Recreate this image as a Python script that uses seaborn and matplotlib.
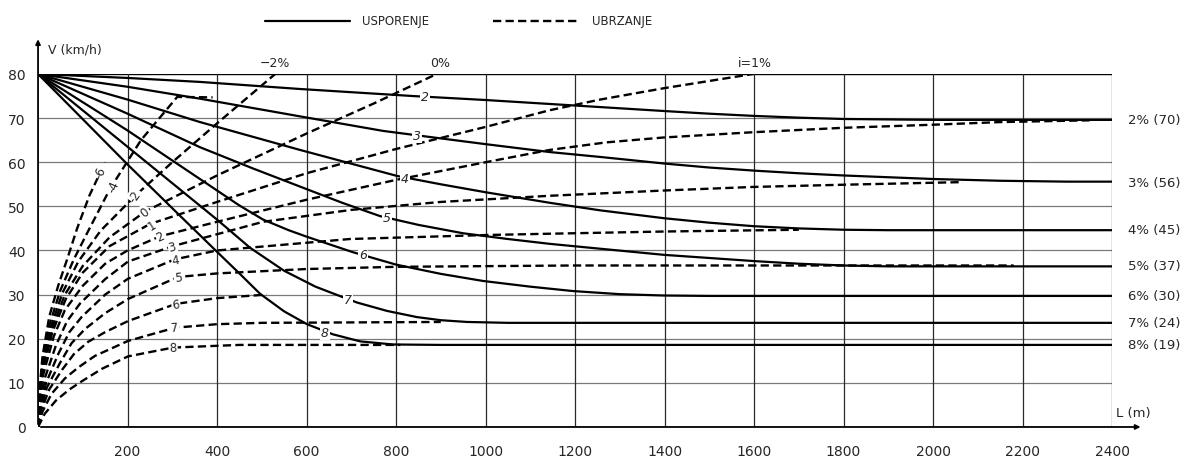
import matplotlib
matplotlib.use('Agg')
import matplotlib.pyplot as plt
import seaborn as sns
import pandas as pd

sns.set_style('white')
plt.rcParams['font.family'] = ['DejaVu Sans']

# --- deceleration curves (USPORENJE), grade % -> (L m, V km/h) ---
dec2 = [(0, 80), (200, 79.1), (362, 78.2), (585, 76.6), (838, 75.0), (1000, 74.1), (1144, 73.2),
        (1256, 72.5), (1400, 71.6), (1500, 71.0), (1600, 70.5), (1700, 70.1), (1800, 69.8),
        (1900, 69.7), (2000, 69.6), (2400, 69.6)]
dec3 = [(0, 80), (200, 77.1), (362, 74.4), (585, 70.4), (771, 67.1), (900, 65.4), (1000, 64.1),
        (1144, 62.3), (1256, 61.2), (1400, 59.7), (1500, 58.8), (1600, 58.1), (1700, 57.5),
        (1800, 57.0), (1900, 56.6), (2000, 56.2), (2150, 55.8), (2300, 55.6), (2400, 55.6)]
dec4 = [(0, 80), (200, 74.2), (362, 69.1), (585, 62.8), (802, 56.9), (900, 55.0), (1000, 53.2),
        (1144, 50.8), (1256, 49.1), (1400, 47.3), (1500, 46.3), (1600, 45.5), (1700, 45.0),
        (1800, 44.7), (1900, 44.6), (2400, 44.6)]
dec5 = [(0, 80), (200, 71.0), (362, 63.4), (480, 58.6), (585, 54.5), (680, 50.8), (764, 47.8),
        (850, 45.8), (950, 43.9), (1050, 42.6), (1144, 41.5), (1256, 40.4), (1400, 39.0),
        (1500, 38.3), (1600, 37.6), (1700, 37.0), (1800, 36.6), (1900, 36.4), (2400, 36.4)]
dec6 = [(0, 80), (200, 67.2), (350, 57.0), (450, 50.2), (503, 47.0), (560, 44.6), (601, 43.1),
        (704, 39.6), (800, 36.8), (900, 34.7), (994, 33.1), (1100, 31.8), (1196, 30.8),
        (1300, 30.1), (1397, 29.8), (1500, 29.7), (2400, 29.7)]
dec7 = [(0, 80), (200, 63.5), (400, 47.0), (474, 40.6), (550, 35.4), (620, 31.8), (679, 29.5),
        (713, 28.2), (780, 26.3), (847, 24.9), (900, 24.2), (959, 23.8), (1050, 23.6), (2400, 23.6)]
dec8 = [(0, 80), (200, 59.5), (324, 47.2), (400, 39.7), (450, 34.8), (496, 30.2), (550, 26.2),
        (601, 23.3), (659, 21.0), (720, 19.4), (793, 18.7), (900, 18.6), (2400, 18.6)]

# --- acceleration curves (UBRZANJE) ---
acc_m6 = [(0, 0), (3, 8), (10, 16), (25, 25), (45, 32), (65, 38), (87, 44.9), (115, 52.5), (150, 60)]
acc_m4 = [(0, 0), (3, 7), (10, 14.5), (25, 23), (50, 31), (80, 38), (110, 44), (161, 54),
          (230, 65), (311, 74.8), (390, 74.7)]
acc_m2 = [(0, 0), (3, 6.5), (10, 14), (28, 22.5), (55, 30.5), (90, 37.5), (140, 44.5),
          (217, 52.4), (300, 60), (400, 68.8), (530, 80)]
acc_0 = [(0, 0), (3, 6), (10, 13.5), (30, 22), (60, 30), (100, 36.5), (160, 43), (239, 48.8),
         (400, 57), (600, 66.5), (750, 73.3), (891, 80)]
acc_1 = [(0, 0), (3, 5.5), (11, 13), (32, 21.5), (62, 29), (100, 35), (160, 41), (250, 46),
         (400, 51), (600, 57.5), (800, 63), (1000, 68), (1144, 71.8), (1256, 74.2), (1400, 76.8), (1598, 80)]
acc_2 = [(0, 0), (3, 5), (12, 12), (35, 20.5), (60, 26.5), (100, 32), (150, 37), (200, 40),
         (272, 43.2), (400, 46.5), (600, 51.5), (800, 56), (1000, 60), (1144, 62.8), (1270, 64.5),
         (1397, 65.6), (1598, 66.8), (1799, 67.8), (2000, 68.5), (2150, 69.1), (2350, 69.5)]
acc_3 = [(0, 0), (4, 4.5), (15, 11), (40, 18.5), (65, 24), (94, 28), (150, 33.5), (201, 37.5),
         (302, 41), (503, 46.5), (700, 49.2), (900, 51), (1144, 52.4), (1401, 53.6), (1598, 54.4),
         (1799, 54.9), (2067, 55.5)]
acc_4 = [(0, 0), (5, 4.5), (18, 10), (45, 16.5), (70, 21.5), (98, 25), (150, 30), (201, 33.6),
         (306, 38), (400, 40), (697, 42.6), (1000, 43.5), (1144, 43.8), (1401, 44.3), (1700, 44.7)]
acc_5 = [(0, 0), (6, 4), (20, 9), (49, 14.5), (75, 19), (105, 22.2), (150, 25.8), (201, 29),
         (313, 34), (400, 34.8), (600, 35.8), (800, 36.3), (1200, 36.6), (2180, 36.6)]
acc_6 = [(0, 0), (8, 4), (25, 8.5), (54, 13), (80, 16.5), (112, 19.3), (150, 21.5), (201, 24),
         (308, 27.9), (400, 29.2), (510, 30)]
acc_7 = [(0, 0), (10, 3.5), (30, 7.5), (60, 11), (90, 13.5), (127, 16.1), (201, 19.5),
         (306, 22.5), (400, 23.3), (500, 23.6), (900, 23.8)]
acc_8 = [(0, 0), (15, 3), (40, 6), (70, 8.5), (100, 10.5), (143, 13.2), (201, 16), (302, 18),
         (450, 18.6), (810, 18.6)]

dec_curves = [dec2, dec3, dec4, dec5, dec6, dec7, dec8]
acc_curves = [acc_m6, acc_m4, acc_m2, acc_0, acc_1, acc_2, acc_3, acc_4, acc_5, acc_6, acc_7, acc_8]

# curve labels
dec_labels = ['2', '3', '4', '5', '6', '7', '8']
dec_label_pos = [(865, 74.8), (847, 66.1), (820, 56.4), (780, 47.4), (726, 39.0), (693, 29.0), (641, 21.4)]
acc_labels = ['-6', '-4', '-2', '0', '1', '2', '3', '4', '5', '6', '7', '8']
acc_label_pos = [(139, 57.8), (168, 54.6), (217, 52.4), (239, 48.8), (255, 45.8), (273, 43.2),
                 (300, 40.9), (308, 37.9), (313, 34.0), (308, 27.9), (306, 22.7), (302, 18.0)]
acc_label_rot = [68, 66, 55, 40, 32, 25, 14, 10, 6, 5, 4, 2]
top_labels = ['\u22122%', '0%', 'i=1%']
top_label_x = [530, 898, 1602]
right_labels = ['2% (70)', '3% (56)', '4% (45)', '5% (37)', '6% (30)', '7% (24)', '8% (19)']
right_label_v = [69.6, 55.5, 44.7, 36.7, 29.7, 23.6, 18.6]

x_ticks = list(range(200, 2401, 200))
y_ticks = list(range(0, 81, 10))

fig = plt.figure(figsize=(11.85, 4.6), dpi=100)
ax = fig.add_axes([0.0321, 0.0696, 0.9063, 0.7674])
ax.set_xlim(0, 2400)
ax.set_ylim(0, 80)

# grid
for yv in y_ticks[1:-1]:
    ax.axhline(yv, color='#7a7a7a', lw=0.9, zorder=1)
ax.axhline(80, color='black', lw=1.0, zorder=1)
for xv in x_ticks:
    ax.axvline(xv, color='#2a2a2a', lw=0.9, zorder=1)

for pts in dec_curves:
    df = pd.DataFrame(pts, columns=['L', 'V'])
    sns.lineplot(data=df, x='L', y='V', ax=ax, color='black', lw=1.6,
                 estimator=None, sort=False, zorder=3)
for pts in acc_curves:
    df = pd.DataFrame(pts, columns=['L', 'V'])
    sns.lineplot(data=df, x='L', y='V', ax=ax, color='black', lw=1.7,
                 estimator=None, sort=False, zorder=3, dashes=(3.5, 1.8))

box = dict(facecolor='white', edgecolor='none', pad=0.6)
for lab, (lx, lv) in zip(dec_labels, dec_label_pos):
    ax.text(lx, lv, lab, fontsize=9, style='italic', ha='center', va='center', bbox=box, zorder=4)
for lab, (lx, lv), rot in zip(acc_labels, acc_label_pos, acc_label_rot):
    ax.text(lx, lv, lab, fontsize=8.5, ha='center', va='center', rotation=rot,
            bbox=box, zorder=4)
for lab, lx in zip(top_labels, top_label_x):
    ax.text(lx, 82.5, lab, fontsize=9, ha='center', va='center', clip_on=False)
for lab, lv in zip(right_labels, right_label_v):
    ax.text(2436, lv, lab, fontsize=9.5, ha='left', va='center', clip_on=False)

ax.text(22, 85.7, 'V (km/h)', fontsize=9, ha='left', va='center', clip_on=False)
ax.text(2410, 3.2, 'L (m)', fontsize=9.5, ha='left', va='center', clip_on=False)

# axes with arrows
for s in ax.spines.values():
    s.set_visible(False)
ax.annotate('', xy=(0, 88.5), xytext=(0, 0), annotation_clip=False,
            arrowprops=dict(arrowstyle='-|>', color='black', lw=1.3, mutation_scale=7))
ax.annotate('', xy=(2470, 0), xytext=(0, 0), annotation_clip=False,
            arrowprops=dict(arrowstyle='-|>', color='black', lw=1.3, mutation_scale=7))

ax.set_xticks(x_ticks)
ax.set_yticks(y_ticks)
ax.set_xticklabels([str(t) for t in x_ticks])
ax.tick_params(axis='x', length=0, pad=12, labelsize=10)
ax.tick_params(axis='y', length=0, pad=9, labelsize=10)
ax.set_xlabel('')
ax.set_ylabel('')

# legend on top
fig.lines.append(plt.Line2D([265 / 1185, 350 / 1185], [1 - 22 / 460] * 2, color='black', lw=1.6,
                            transform=fig.transFigure))
fig.lines.append(plt.Line2D([493 / 1185, 578 / 1185], [1 - 22 / 460] * 2, color='black', lw=1.7,
                            dashes=(3.5, 1.8), transform=fig.transFigure))
fig.text(362 / 1185, 1 - 22 / 460, 'USPORENJE', fontsize=8.5, va='center', ha='left')
fig.text(592 / 1185, 1 - 22 / 460, 'UBRZANJE', fontsize=8.5, va='center', ha='left')

fig.savefig('out.png', dpi=100)
